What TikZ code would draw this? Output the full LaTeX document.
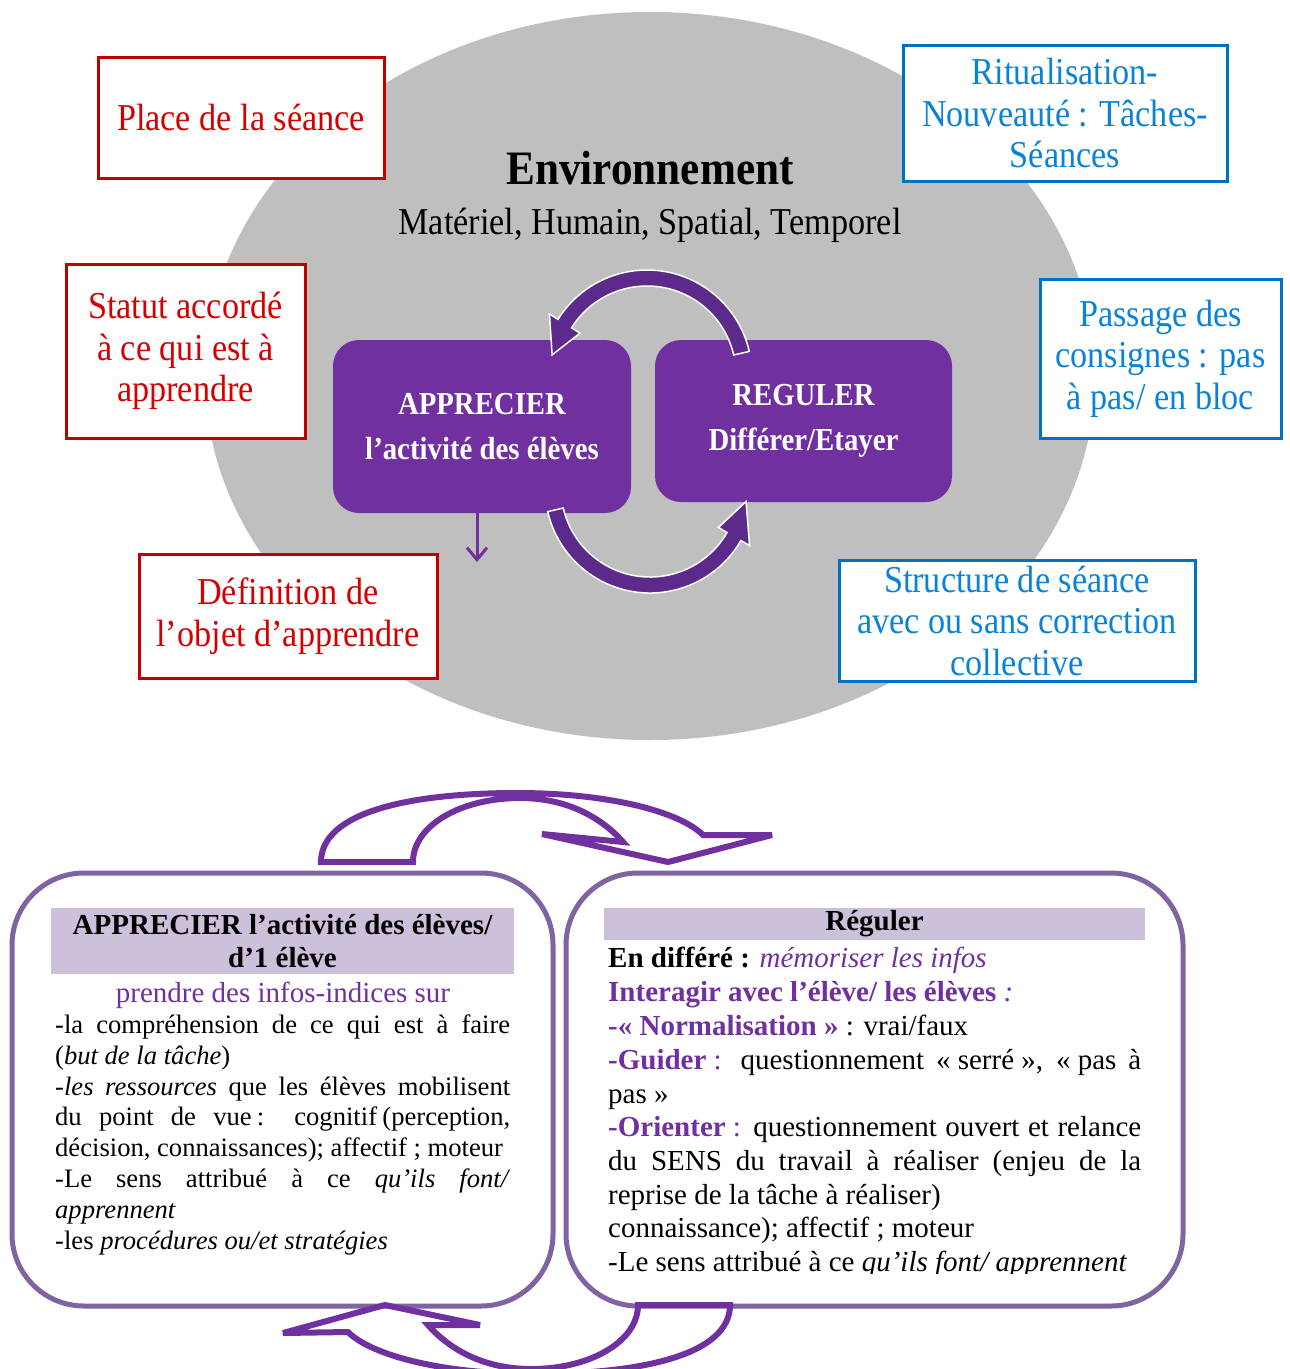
\documentclass[tikz,border=0pt]{standalone}
\usepackage{fontspec}
\setmainfont{Liberation Serif}
\newfontfamily\topfont[FakeStretch=0.9]{Liberation Serif}
\usetikzlibrary{calc,arrows.meta}
\definecolor{grayell}{RGB}{191,191,191}
\definecolor{ured}{RGB}{192,0,0}
\definecolor{redtxt}{RGB}{212,0,0}
\definecolor{ublue}{RGB}{0,112,192}
\definecolor{bluetxt}{RGB}{10,130,215}
\definecolor{upurple}{RGB}{112,48,160}
\definecolor{darkpurple}{RGB}{92,42,138}
\definecolor{boxpurple}{RGB}{128,100,162}
\definecolor{lavender}{RGB}{204,192,218}
\begin{document}
\begin{tikzpicture}[x=1pt,y=-1pt,
  redbox/.style={draw=ured,line width=3pt,fill=white,inner sep=0pt,align=center,text=redtxt,
    font=\topfont\fontsize{38}{41.5}\selectfont},
  bluebox/.style={draw=ublue,line width=3pt,fill=white,inner sep=0pt,align=center,text=bluetxt,
    font=\topfont\fontsize{38}{41.5}\selectfont},
  pbox/.style={fill=upurple,rounded corners=26pt,inner sep=0pt,align=center,text=white,
    font=\topfont\bfseries\fontsize{32}{45}\selectfont},
  ribbon/.style={fill=darkpurple,draw=white,line width=1.5pt,line join=miter},
  bigbox/.style={draw=boxpurple,line width=5pt,rounded corners=72pt,inner sep=0pt},
  headbox/.style={fill=lavender,inner sep=0pt,align=center,font=\bfseries\fontsize{29}{33.5}\selectfont},
  outarrow/.style={draw=upurple,line width=6pt,line join=miter,miter limit=3},
  ltxt/.style={anchor=base west,inner sep=0pt,font=\fontsize{26.6}{31}\selectfont},
  rtxt/.style={anchor=base west,inner sep=0pt,font=\fontsize{29}{33.7}\selectfont}]
\useasboundingbox (0,0) rectangle (1290,1369);
\fill[white] (0,0) rectangle (1290,1369);

% ---------- top part ----------
\fill[grayell] (650,376) ellipse [x radius=445, y radius=364];

\node[redbox,minimum width=286pt,minimum height=121pt] (place) at (241,117.5) {Place de la séance};
\node[redbox,minimum width=239pt,minimum height=174pt] (statut) at (185.5,351) {Statut accordé\\à ce qui est à\\apprendre};
\node[redbox,minimum width=298pt,minimum height=124pt] (defin) at (288,616) {Définition de\\l’objet d’apprendre};
\node[bluebox,minimum width=324pt,minimum height=136pt] (ritual) at (1065,113) {Ritualisation-\\Nouveauté : Tâches-\\Séances};
\node[bluebox,minimum width=241pt,minimum height=159pt] (passage) at (1160.5,358.5) {Passage des\\consignes : pas\\à pas/ en bloc};
\node[bluebox,minimum width=356pt,minimum height=121pt] (struct) at (1017,620.5) {Structure de séance\\avec ou sans correction\\collective};

\node[inner sep=0pt,font=\topfont\bfseries\fontsize{48}{50}\selectfont] (env) at (650,168) {Environnement};
\node[inner sep=0pt,font=\topfont\fontsize{38}{40}\selectfont] (mat) at (650,225) {Matériel, Humain, Spatial, Temporel};

\node[pbox,minimum width=298pt,minimum height=173pt] (appr) at (482,426.5) {APPRECIER\\l’activité des élèves};
\node[pbox,minimum width=297pt,minimum height=162pt] (regu) at (803.5,421) {REGULER\\Différer/Etayer};

% circular arrows
\coordinate (c1) at (647,375);
\coordinate (c2) at (650,488);
\draw[ribbon] ($(c1)+(-13:105)$) arc[start angle=-13,end angle=-148,radius=105]
  -- ($(c1)+(-148:115)$) -- ($(c1)+(-168:97)$) -- ($(c1)+(-148:79)$) -- ($(c1)+(-148:89)$)
  arc[start angle=-148,end angle=-13,radius=89] -- cycle;
\draw[ribbon] ($(c2)+(167:105)$) arc[start angle=167,end angle=30,radius=105]
  -- ($(c2)+(30:115)$) -- ($(c2)+(8:97)$) -- ($(c2)+(30:79)$) -- ($(c2)+(30:89)$)
  arc[start angle=30,end angle=167,radius=89] -- cycle;

\coordinate (sa) at (477,562);
\draw[upurple,line width=3pt,-{Straight Barb[length=12pt,width=20pt,line width=3pt]}] (appr.south -| sa) -- (sa);

% ---------- bottom part ----------
\node[bigbox,minimum width=541pt,minimum height=433pt] (lbox) at (282.5,1089.5) {};
\node[bigbox,minimum width=617pt,minimum height=433pt] (rbox) at (874.5,1089.5) {};

\draw[outarrow] (321,862) .. controls (321,812) and (410,793) .. (517,793)
  .. controls (610,793) and (680,812) .. (703,835) -- (772,835) -- (668,862) -- (542,834) -- (623,842)
  .. controls (600,816) and (565,798) .. (520,798) .. controls (460,798) and (413,826) .. (413,862) -- cycle;
\begin{scope}
\clip (0,0) rectangle (1290,1369);
\draw[outarrow] (730,1305) .. controls (730,1355) and (641,1374) .. (534,1374)
  .. controls (441,1374) and (371,1355) .. (348,1332) -- (283,1333) -- (385,1305) -- (480,1325) -- (428,1325)
  .. controls (451,1351) and (486,1369) .. (531,1369) .. controls (591,1369) and (638,1341) .. (638,1305) -- cycle;
\end{scope}

\node[headbox,minimum width=463pt,minimum height=66pt] (lhead) at (282.5,941) {APPRECIER l’activité des élèves/\\d’1 élève};
\node[headbox,minimum width=541pt,minimum height=32pt] (rhead) at (874.5,924) {Réguler};

\node[anchor=base,inner sep=0pt,text=upurple,font=\fontsize{29}{31}\selectfont] (prendre) at (283,1002) {prendre des infos-indices sur};
\node[ltxt] (l1) at (55,1033) {\makebox[455pt][s]{-la compréhension de ce qui est à faire}};
\node[ltxt] (l2) at (55,1064) {(\textit{but de la tâche})};
\node[ltxt] (l3) at (55,1095) {\makebox[455pt][s]{-\textit{les ressources} que les élèves mobilisent}};
\node[ltxt] (l4) at (55,1125) {\makebox[455pt][s]{du point de vue\kern0.2em: cognitif\kern0.2em(perception,}};
\node[ltxt] (l5) at (55,1156) {décision, connaissances); affectif ; moteur};
\node[ltxt] (l6) at (55,1187) {\makebox[455pt][s]{-Le sens attribué à ce \textit{qu’ils font/}}};
\node[ltxt] (l7) at (55,1218) {\textit{apprennent}};
\node[ltxt] (l8) at (55,1249) {-les \textit{procédures ou/et stratégies}};

\node[rtxt] (r1) at (608,967) {\textbf{En différé :} {\color{upurple}\textit{mémoriser les infos}}};
\node[rtxt] (r2) at (608,1001) {{\color{upurple}\textbf{Interagir avec l’élève/ les élèves} \textit{:}}};
\node[rtxt] (r3) at (608,1035) {{\color{upurple}\textbf{-«\kern0.25em Normalisation\kern0.25em»}} : vrai/faux};
\node[rtxt] (r4) at (608,1069) {\makebox[533pt][s]{{\color{upurple}\textbf{-Guider}\kern0.25em:} questionnement «\kern0.25em serré\kern0.25em», «\kern0.25em pas à}};
\node[rtxt] (r5) at (608,1103) {pas\kern0.25em»};
\node[rtxt] (r6) at (608,1136) {\makebox[533pt][s]{{\color{upurple}\textbf{-Orienter}\kern0.25em:} questionnement ouvert et relance}};
\node[rtxt] (r7) at (608,1170) {\makebox[533pt][s]{du SENS du travail à réaliser (enjeu de la}};
\node[rtxt] (r8) at (608,1204) {reprise de la tâche à réaliser)};
\node[rtxt] (r9) at (608,1237) {connaissance); affectif ; moteur};
\begin{scope}
\clip (600,1200) rectangle (1150,1273);
\node[rtxt] (r10) at (608,1271) {-Le sens attribué à ce \textit{qu’ils font/ apprennent}};
\end{scope}
\end{tikzpicture}
\end{document}
